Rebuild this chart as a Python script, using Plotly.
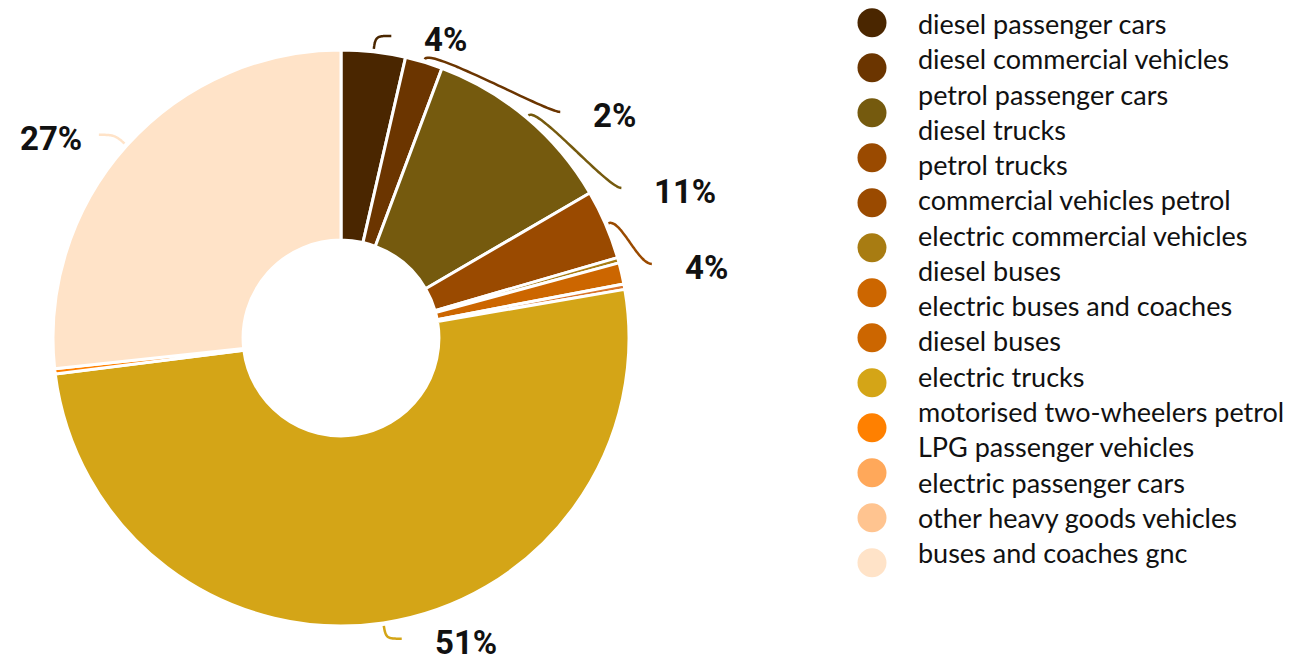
import math
import numpy as np
import plotly.graph_objects as go

# ---- data -----------------------------------------------------------------
slice_names = [
    "diesel passenger cars",
    "diesel commercial vehicles",
    "petrol passenger cars",
    "diesel trucks",
    "electric commercial vehicles",
    "diesel buses",
    "electric buses and coaches",
    "electric trucks",
    "motorised two-wheelers petrol",
    "buses and coaches gnc",
]
slice_values = [3.6, 2.1, 10.9, 3.9, 0.3, 1.2, 0.3, 50.7, 0.3, 26.7]
slice_colors = [
    "#4a2600", "#6b3500", "#755a0e", "#9a4a00", "#a87c12",
    "#cc6600", "#d9742a", "#d4a517", "#ff8000", "#ffe3c8",
]

legend_labels = [
    "diesel passenger cars",
    "diesel commercial vehicles",
    "petrol passenger cars",
    "diesel trucks",
    "petrol trucks",
    "commercial vehicles petrol",
    "electric commercial vehicles",
    "diesel buses",
    "electric buses and coaches",
    "diesel buses",
    "electric trucks",
    "motorised two-wheelers petrol",
    "LPG passenger vehicles",
    "electric passenger cars",
    "other heavy goods vehicles",
    "buses and coaches gnc",
]
legend_colors = [
    "#4a2600", "#6b3500", "#755a0e", "#9a4a00", "#9a4a00", "#a87c12",
    "#cc6600", "#cc6600", "#d4a517", "#ff8000", "#ffa85a", "#ffc490",
    "#ffe3c8",
]

# ---- geometry (pixels) ----------------------------------------------------
W, H = 1291, 663
CX, CY, R = 341, 338, 288
HOLE = 0.34
LABEL_R = 304          # radius where leader lines end
LABEL_GAP = 76         # minimum vertical spacing of labels on one side
H_SHIFT = 16           # horizontal run at the end of a leader
MIN_LABEL = 1.5        # smallest share that gets a label

LEG_MARK_X, LEG_MARK_Y0, LEG_MARK_DY = 872, 22.7, 45.0
LEG_TEXT_X, LEG_TEXT_Y0, LEG_TEXT_DY = 916, 23.5, 35.27

fig = go.Figure()

fig.add_trace(go.Pie(
    labels=slice_names,
    values=slice_values,
    marker=dict(colors=slice_colors, line=dict(color="white", width=3)),
    hole=HOLE,
    sort=False,
    direction="clockwise",
    rotation=0,
    textinfo="none",
    showlegend=False,
    domain=dict(x=[(CX - R) / W, (CX + R) / W],
                y=[(H - CY - R) / H, (H - CY + R) / H]),
))

# ---- outside labels with curved leader lines ------------------------------
total = float(sum(slice_values))
starts = np.cumsum([0] + slice_values[:-1]) / total * 360.0
mids = [s + v / total * 180.0 for s, v in zip(starts, slice_values)]

def polar(r, deg):
    a = math.radians(deg)
    return CX + r * math.sin(a), CY - r * math.cos(a)

labelled = [i for i, v in enumerate(slice_values) if v / total * 100 >= MIN_LABEL]
placed = {}
for side in ("right", "left"):
    idx = [i for i in labelled if (mids[i] < 180) == (side == "right")]
    idx.sort(key=lambda i: mids[i] if side == "right" else 360 - mids[i])
    prev = None
    for i in idx:
        y = CY - LABEL_R * math.cos(math.radians(mids[i]))
        if prev is not None and side == "right" and mids[i] < 120:
            y = max(y, prev + LABEL_GAP)
        prev = y
        dx = math.sqrt(max(LABEL_R ** 2 - (y - CY) ** 2, 0.0))
        sign = 1 if side == "right" else -1
        placed[i] = (CX + sign * (dx + H_SHIFT), y, sign)

t = np.linspace(0, 1, 40)
for i, (xe, ye, sign) in placed.items():
    p0 = polar(R + 3, mids[i])
    p1 = polar(R + 16, mids[i])
    p2 = (xe - sign * 14, ye)
    p3 = (xe, ye)
    bx = ((1 - t) ** 3 * p0[0] + 3 * (1 - t) ** 2 * t * p1[0]
          + 3 * (1 - t) * t ** 2 * p2[0] + t ** 3 * p3[0])
    by = ((1 - t) ** 3 * p0[1] + 3 * (1 - t) ** 2 * t * p1[1]
          + 3 * (1 - t) * t ** 2 * p2[1] + t ** 3 * p3[1])
    fig.add_trace(go.Scatter(
        x=bx, y=by, mode="lines", hoverinfo="skip", showlegend=False,
        line=dict(color=slice_colors[i], width=2.5, shape="spline"),
    ))
    pct = round(slice_values[i] / total * 100)
    fig.add_annotation(
        x=xe + (31 if sign > 0 else -15), y=ye + 4, xref="x", yref="y",
        text=f"{pct}%", showarrow=False,
        xanchor="left" if sign > 0 else "right", yanchor="middle",
        font=dict(family="Roboto, DejaVu Sans Condensed, sans-serif",
                  size=33, color="#111111", weight="bold"),
    )

# ---- legend ---------------------------------------------------------------
fig.add_trace(go.Scatter(
    x=[LEG_MARK_X] * len(legend_colors),
    y=[LEG_MARK_Y0 + k * LEG_MARK_DY for k in range(len(legend_colors))],
    mode="markers", hoverinfo="skip", showlegend=False,
    marker=dict(size=29, color=legend_colors, line=dict(width=0)),
))
for k, name in enumerate(legend_labels):
    fig.add_annotation(
        x=LEG_TEXT_X, y=LEG_TEXT_Y0 + k * LEG_TEXT_DY, xref="x", yref="y",
        text=name, showarrow=False, xanchor="left", yanchor="middle",
        font=dict(family="Lato, Carlito, Open Sans, sans-serif", size=27,
                  color="#111111"),
    )

fig.update_layout(
    width=W, height=H,
    margin=dict(l=0, r=0, t=0, b=0),
    paper_bgcolor="white", plot_bgcolor="rgba(0,0,0,0)",
    showlegend=False,
    xaxis=dict(range=[0, W], visible=False, fixedrange=True),
    yaxis=dict(range=[H, 0], visible=False, fixedrange=True),
)

fig.write_html("out.html")
